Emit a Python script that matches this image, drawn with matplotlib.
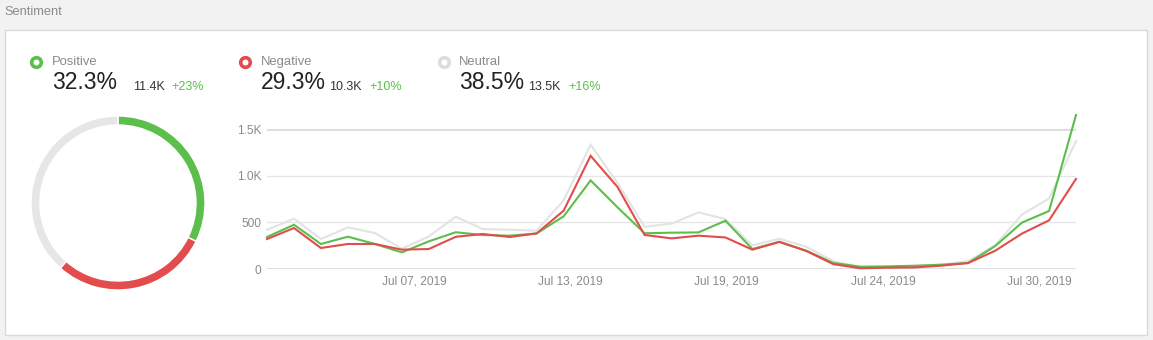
import matplotlib
matplotlib.use("Agg")
import matplotlib.pyplot as plt
from matplotlib.patches import Rectangle

plt.rcParams["font.family"] = ["Liberation Sans", "DejaVu Sans"]

W, H = 1153, 340

# daily mention counts, Jul 01 .. Jul 31
positive = [343, 474, 268, 346, 268, 178, 296, 394, 364, 357, 381, 564, 949, 660, 383, 389,
            392, 517, 214, 292, 196, 65, 25, 28, 35, 46, 64, 245, 498, 621, 1650]
negative = [321, 439, 225, 268, 268, 207, 214, 345, 375, 343, 381, 625, 1213, 878, 365, 328,
            357, 338, 207, 290, 193, 52, 8, 14, 17, 35, 64, 195, 380, 521, 965]
neutral = [421, 539, 321, 446, 386, 217, 349, 560, 428, 421, 410, 735, 1331, 921, 452, 486,
           606, 535, 253, 325, 238, 85, 17, 22, 29, 46, 85, 255, 584, 755, 1370]

names = ["Positive", "Negative", "Neutral"]
shares = [32.3, 29.3, 38.5]
totals = ["11.4K", "10.3K", "13.5K"]
changes = ["+23%", "+10%", "+16%"]

x_labels = ["Jul 07, 2019", "Jul 13, 2019", "Jul 19, 2019", "Jul 24, 2019", "Jul 30, 2019"]
y_ticks = [0, 500, 1000, 1500]
y_labels = ["0", "500", "1.0K", "1.5K"]

GREEN = "#5cbf4c"
RED = "#e24c4c"
GREY = "#e6e6e6"
ring_colors = [GREEN, RED, "#dcdcdc"]
line_colors = [GREEN, RED, "#e3e3e3"]
TXT = "#8a8a8a"


def fx(x):
    return x / W


def fy(y):
    return 1 - y / H


fig = plt.figure(figsize=(W / 100, H / 100), dpi=100)
fig.patch.set_facecolor("#f2f2f2")

# white card behind everything
fig.add_artist(Rectangle((fx(5), fy(335)), fx(1147) - fx(5), fy(30) - fy(335),
                         transform=fig.transFigure, facecolor="white",
                         edgecolor="#d9d9d9", linewidth=1, zorder=0))
fig.text(fx(4), fy(12), "Sentiment", fontsize=9.2, color=TXT, va="center", ha="left")

# legend blocks: ring x, label x, total x, change x
blocks = [(36, 52, 133, 171), (245, 261, 329, 369), (444, 459, 528, 568)]
for (cx, tx, kx, px), name, share, tot, chg in zip(blocks, names, shares, totals, changes):
    fig.text(fx(tx), fy(62), name, fontsize=9.4, color=TXT, va="center", ha="left")
    fig.text(fx(tx), fy(89), f"{share}%", fontsize=16.5, color="#222222",
             va="baseline", ha="left")
    fig.text(fx(kx), fy(90), tot, fontsize=9, color="#333333", va="baseline", ha="left")
    fig.text(fx(px), fy(90), chg, fontsize=9, color=GREEN, va="baseline", ha="left")

# legend ring markers
mk = fig.add_axes([0, 0, 1, 1], zorder=2)
mk.set_xlim(0, W)
mk.set_ylim(H, 0)
mk.axis("off")
for (cx, _, _, _), col in zip(blocks, ring_colors):
    mk.scatter([cx], [62], s=48, facecolors="white", edgecolors=col, linewidths=2.6)

# donut
R = 90
dax = fig.add_axes([fx(118 - R), fy(203 + R), 2 * R / W, 2 * R / H])
dax.pie(shares, colors=ring_colors[:2] + [GREY], startangle=90, counterclock=False,
        radius=87 / R, wedgeprops=dict(width=9 / R, edgecolor="white", linewidth=1))
dax.set_xlim(-1, 1)
dax.set_ylim(-1, 1)
dax.set_aspect("auto")
dax.axis("off")

# daily trend lines
ax = fig.add_axes([fx(267), fy(269), fx(1076) - fx(267), fy(129) - fy(269)])
days = list(range(len(positive)))
for series, col, z in [(neutral, line_colors[2], 3), (positive, line_colors[0], 4),
                       (negative, line_colors[1], 5)]:
    ax.plot(days, series, color=col, lw=1.5, zorder=z, clip_on=False,
            solid_joinstyle="miter")
for v in y_ticks:
    thick = v in (0, 1500)
    ax.axhline(v, color="#dcdcdc" if thick else "#e6e6e6", lw=2 if thick else 1, zorder=1)
ax.set_xlim(0, len(positive) - 1)
ax.set_ylim(0, 1500)
ax.set_yticks(y_ticks)
ax.set_yticklabels(y_labels)
ax.set_xticks([5.45, 11.25, 17.05, 22.85, 28.65])
ax.set_xticklabels(x_labels)
ax.tick_params(axis="both", length=0, labelsize=8.6, labelcolor=TXT)
ax.tick_params(axis="y", pad=4)
ax.tick_params(axis="x", pad=5)
for s in ax.spines.values():
    s.set_visible(False)
ax.set_facecolor("none")

fig.savefig("out.png", dpi=100, facecolor=fig.get_facecolor())
